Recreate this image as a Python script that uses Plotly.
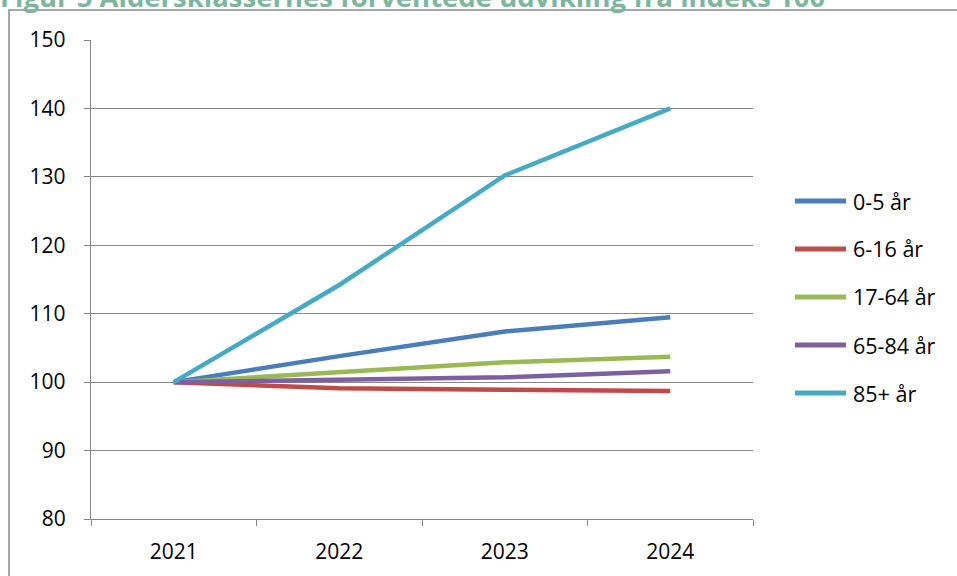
import plotly.graph_objects as go

years = ["2021", "2022", "2023", "2024"]
series_names = ["0-5 år", "6-16 år", "17-64 år", "65-84 år", "85+ år"]
v_0_5 = [100, 103.8, 107.4, 109.5]
v_6_16 = [100, 99.1, 98.9, 98.7]
v_17_64 = [100, 101.5, 102.9, 103.7]
v_65_84 = [100, 100.3, 100.7, 101.6]
v_85 = [100, 114.2, 130.2, 140.0]
colors = ["#4A7EBB", "#BE4B48", "#98B954", "#7D60A0", "#46AAC5"]
title_text = "Figur 5 Aldersklassernes forventede udvikling fra indeks 100"

values = [v_0_5, v_6_16, v_17_64, v_65_84, v_85]

W, H = 957, 576
L, R, T, B = 91, 204, 40, 57
pw, ph = W - L - R, H - T - B

def px_x(p):
    return (p - L) / pw

def px_y(p):
    return (H - B - p) / ph

fig = go.Figure()
for name, vals, c in zip(series_names, values, colors):
    fig.add_trace(go.Scatter(x=years, y=vals, name=name, mode="lines",
                             line=dict(color=c, width=4.5), showlegend=False))

font = "Open Sans, Lato, sans-serif"
shapes = []
annotations = []
# outer frame
shapes.append(dict(type="rect", xref="paper", yref="paper",
                   x0=px_x(9), x1=px_x(1200), y0=px_y(10), y1=px_y(800),
                   line=dict(color="#8C8C8C", width=1.5), layer="below"))
# manual legend
leg_y = [201, 249, 297, 345, 393]
for name, c, py in zip(series_names, colors, leg_y):
    shapes.append(dict(type="line", xref="paper", yref="paper",
                       x0=px_x(795), x1=px_x(846), y0=px_y(py), y1=px_y(py),
                       line=dict(color=c, width=5)))
    annotations.append(dict(text=name, xref="paper", yref="paper",
                            x=px_x(851), y=px_y(py), xanchor="left", yanchor="middle",
                            showarrow=False, font=dict(family=font, size=21.5, color="#000")))
annotations.append(dict(text="<b>" + title_text + "</b>", xref="paper", yref="paper",
                        x=px_x(-2), y=px_y(17), xanchor="left", yanchor="bottom",
                        showarrow=False, font=dict(family=font, size=27.5, color="#7DB69E")))

fig.update_layout(
    width=W, height=H,
    margin=dict(l=L, r=R, t=T, b=B, pad=0),
    paper_bgcolor="white", plot_bgcolor="white",
    font=dict(family=font, size=21, color="#000"),
    shapes=shapes, annotations=annotations,
    xaxis=dict(type="category", range=[-0.5, 3.5], showgrid=False,
               showline=True, linecolor="#878787", linewidth=1.3,
               ticks="outside", tickson="boundaries", ticklen=6, tickcolor="#878787",
               tickwidth=1.3, ticklabelstandoff=14,
               tickfont=dict(family=font, size=21)),
    yaxis=dict(range=[80, 150], dtick=10, showgrid=True, gridcolor="#878787",
               gridwidth=1.3, zeroline=False,
               showline=True, linecolor="#878787", linewidth=1.3,
               ticks="outside", ticklen=6, tickcolor="#878787", tickwidth=1.3,
               ticklabelstandoff=14, tickfont=dict(family=font, size=21)),
)
fig.write_html("out.html", config={"displayModeBar": False},
               post_script="document.body.style.margin='0';document.body.style.padding='0';")
